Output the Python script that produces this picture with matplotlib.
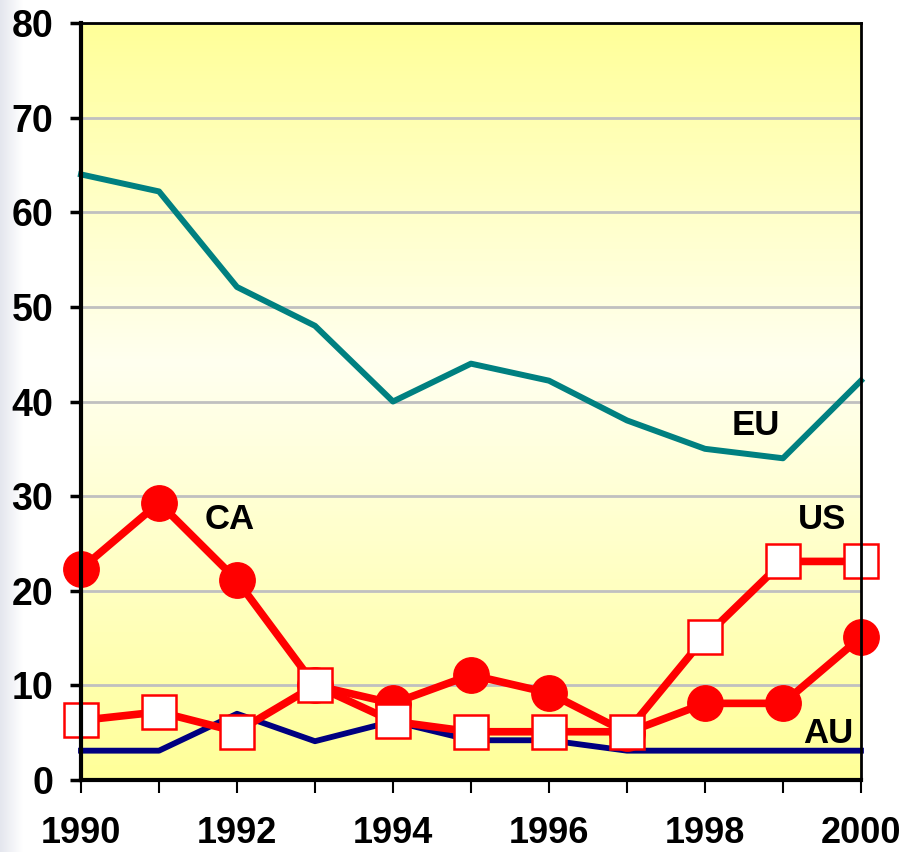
import numpy as np
import matplotlib.pyplot as plt
from matplotlib.colors import LinearSegmentedColormap

years = [1990, 1991, 1992, 1993, 1994, 1995, 1996, 1997, 1998, 1999, 2000]
eu = [64, 62.2, 52.1, 48, 40, 44, 42.2, 38, 35, 34, 42.2]
ca = [22.3, 29.3, 21.1, 10, 8.1, 11.1, 9.2, 5, 8.1, 8.1, 15.1]
us = [6.3, 7.2, 5.1, 10, 6.2, 5.1, 5.1, 5.1, 15.1, 23.1, 23.1]
au = [3.1, 3.1, 7, 4.1, 6.2, 4.2, 4.2, 3.1, 3.1, 3.1, 3.1]

plt.rcParams['font.family'] = ['Liberation Sans', 'DejaVu Sans']
plt.rcParams['font.weight'] = 'bold'

fig = plt.figure(figsize=(9.02, 8.52), dpi=100)

# light grey strip on the left edge
strip = fig.add_axes([0, 0, 0.025, 1])
strip.imshow(np.linspace(0, 1, 50).reshape(1, -1), aspect='auto',
             cmap=LinearSegmentedColormap.from_list('s', ['#e4e6ee', '#ffffff']))
strip.axis('off')

ax = fig.add_axes([0.0898, 0.0845, 0.8647, 0.8885])

# yellow gradient background: yellow top, pale middle, yellow bottom
bg = LinearSegmentedColormap.from_list('bg', [(0, '#ffff99'), (0.45, '#fffff0'), (1, '#ffff99')])
ax.imshow(np.linspace(0, 1, 200).reshape(-1, 1), aspect='auto', cmap=bg,
          extent=[1990, 2000, 0, 80], zorder=0)

ax.plot(years, au, color='#000080', lw=4.2, zorder=3)
ax.plot(years, ca, color='#ff0000', lw=5.5, marker='o', ms=25.5, mfc='#ff0000', mec='#ff0000', zorder=4)
ax.plot(years, us, color='#ff0000', lw=5.5, marker='s', ms=24, mfc='white', mec='#ff0000', mew=1.8, zorder=5)
ax.plot(years, eu, color='#008080', lw=4.3, zorder=6)

ax.text(1998.65, 37.5, 'EU', fontsize=25, fontweight='bold', ha='center', va='center')
ax.text(1991.9, 27.5, 'CA', fontsize=25, fontweight='bold', ha='center', va='center')
ax.text(1999.5, 27.5, 'US', fontsize=25, fontweight='bold', ha='center', va='center')
ax.text(1999.58, 4.9, 'AU', fontsize=25, fontweight='bold', ha='center', va='center')

ax.set_xlim(1990, 2000)
ax.set_ylim(0, 80)
ax.set_xticks(years)
ax.set_xticklabels([str(y) if y % 2 == 0 else '' for y in years])
ax.set_yticks(range(0, 81, 10))
ax.yaxis.grid(True, color='#c0c0c0', lw=2)
ax.set_axisbelow(True)
for g in ax.yaxis.get_gridlines():
    g.set_zorder(1)

ax.tick_params(axis='y', direction='out', length=8, width=2.5, labelsize=27, pad=12)
ax.tick_params(axis='x', direction='out', length=9, width=1.5, labelsize=26, pad=17)
for lbl in ax.get_xticklabels() + ax.get_yticklabels():
    lbl.set_fontweight('bold')

ax.spines['left'].set_linewidth(3)
ax.spines['bottom'].set_linewidth(3)
ax.spines['top'].set_linewidth(2)
ax.spines['right'].set_linewidth(2)
for s in ax.spines.values():
    s.set_zorder(7)

for l in ax.lines:
    l.set_clip_on(False)

plt.savefig('out.png', dpi=100)
